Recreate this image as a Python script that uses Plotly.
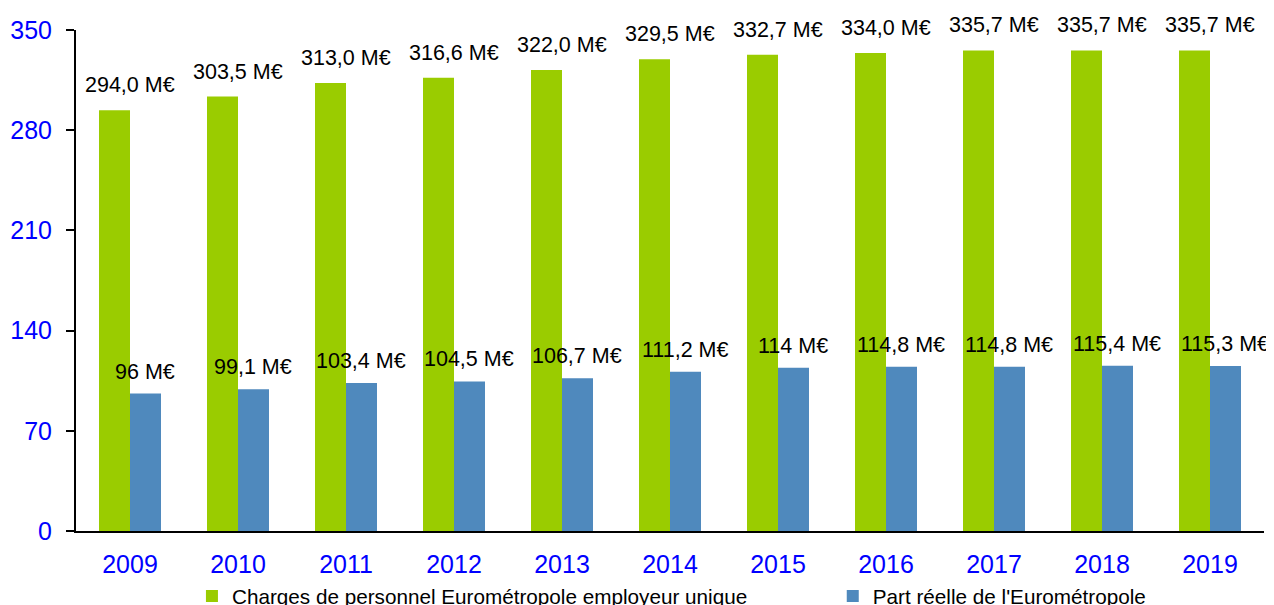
import plotly.graph_objects as go

years = ["2009", "2010", "2011", "2012", "2013", "2014", "2015", "2016", "2017", "2018", "2019"]
charges = [294.0, 303.5, 313.0, 316.6, 322.0, 329.5, 332.7, 334.0, 335.7, 335.7, 335.7]
part = [96, 99.1, 103.4, 104.5, 106.7, 111.2, 114, 114.8, 114.8, 115.4, 115.3]
charges_labels = ["294,0 M€", "303,5 M€", "313,0 M€", "316,6 M€", "322,0 M€", "329,5 M€",
                  "332,7 M€", "334,0 M€", "335,7 M€", "335,7 M€", "335,7 M€"]
part_labels = ["96 M€", "99,1 M€", "103,4 M€", "104,5 M€", "106,7 M€", "111,2 M€",
               "114 M€", "114,8 M€", "114,8 M€", "115,4 M€", "115,3 M€"]
y_ticks = [0, 70, 140, 210, 280, 350]

GREEN = "#9ACC00"
BLUE = "#4F89BD"
FONT = "Arial, Liberation Sans, sans-serif"

# page body has an 8px margin, so the figure is sized to fit the window
W, H = 1266, 597
ML, MR, MT, MB = 68, 10, 22, 74
BARGAP = 0.426

fig = go.Figure()
fig.add_bar(x=years, y=charges, name="Charges de personnel Eurométropole employeur unique",
            marker=dict(color=GREEN, line=dict(width=0)), legend="legend")
fig.add_bar(x=years, y=part, name="Part réelle de l'Eurométropole",
            marker=dict(color=BLUE, line=dict(width=0)), legend="legend2")

plot_w = W - ML - MR
cat_w = plot_w / len(years)
bar_w = cat_w * (1 - BARGAP) / 2

annotations = []
for i, (v, t) in enumerate(zip(charges, charges_labels)):
    annotations.append(dict(x=i, y=v, xref="x", yref="y", text=t, showarrow=False, yshift=25,
                            font=dict(size=21.5, color="black", family=FONT)))
for i, (v, t) in enumerate(zip(part, part_labels)):
    annotations.append(dict(x=i, y=v, xref="x", yref="y", text=t, showarrow=False, yshift=22,
                            xshift=bar_w / 2, font=dict(size=21.5, color="black", family=FONT)))

legend_common = dict(orientation="h", yanchor="middle", y=-0.130, xanchor="left",
                     font=dict(size=20.7, color="black", family=FONT),
                     bgcolor="rgba(0,0,0,0)", itemwidth=30)

fig.update_layout(
    width=W, height=H,
    margin=dict(l=ML, r=MR, t=MT, b=MB, autoexpand=False),
    paper_bgcolor="white", plot_bgcolor="white",
    barmode="group", bargap=BARGAP, bargroupgap=0,
    font=dict(family=FONT, color="black"),
    showlegend=True,
    legend=dict(x=0.0976, **legend_common),
    legend2=dict(x=0.637, **legend_common),
    annotations=annotations,
)
fig.update_xaxes(type="category", range=[-0.5, len(years) - 0.5], showline=True,
                 linecolor="black", linewidth=2, ticks="", ticklabelstandoff=10,
                 tickfont=dict(size=25, color="#0000FF", family=FONT),
                 showgrid=False, zeroline=False)
fig.update_yaxes(range=[0, 350], tickvals=y_ticks, showline=True, linecolor="black",
                 linewidth=2, ticks="outside", ticklen=8, tickwidth=2, tickcolor="black",
                 ticklabelstandoff=9,
                 tickfont=dict(size=25, color="#0000FF", family=FONT),
                 showgrid=False, zeroline=False)

fig.write_html("out.html")
